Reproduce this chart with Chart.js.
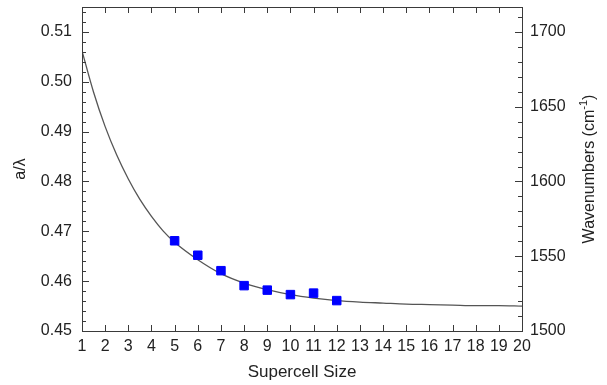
<!DOCTYPE html>
<html>
<head>
<meta charset="utf-8">
<script src="https://cdn.jsdelivr.net/npm/chart.js@4/dist/chart.umd.min.js"></script>
<style>
html,body{margin:0;padding:0;background:#fff;}
canvas{display:block;}
</style>
</head>
<body>
<canvas id="c" width="607" height="385"></canvas>
<script>
// ---- data ----
const supercellSizes = [5, 6, 7, 8, 9, 10, 11, 12];
const aOverLambda = [0.4681, 0.4652, 0.4621, 0.4591, 0.4582, 0.4573, 0.4576, 0.4561];

const curveX = [1, 1.5, 2, 2.5, 3, 3.5, 4, 4.5, 5, 6, 7, 8, 9, 10, 11, 12, 13, 14, 15, 16, 17, 18, 19, 20];
const curveY = [0.5062, 0.4979, 0.4910, 0.4853, 0.4805, 0.4764, 0.4730, 0.4701, 0.4678, 0.4643, 0.4615,
                0.4596, 0.4583, 0.4573, 0.4566, 0.4561, 0.4558, 0.4556, 0.4554, 0.4553, 0.4552, 0.4551, 0.4551, 0.4550];

const xTicks = [1,2,3,4,5,6,7,8,9,10,11,12,13,14,15,16,17,18,19,20];
const leftTicks = [0.45, 0.46, 0.47, 0.48, 0.49, 0.50, 0.51];
const rightTicks = [1500, 1550, 1600, 1650, 1700];

const xTitle = 'Supercell Size';
const leftTitle = 'a/\u03bb';
const rightTitleMain = 'Wavenumbers (cm';
const rightTitleSup = '-1';
const rightTitleEnd = ')';

const FONT = "'Liberation Sans', Arial, sans-serif";
const TXT = '#222222';
const FRAME = '#3a3a3a';

const frameTicks = {
  id: 'frameTicks',
  afterDatasetsDraw(chart) {
    const ctx = chart.ctx;
    const a = chart.chartArea;
    const xs = chart.scales.x, yl = chart.scales.y, yr = chart.scales.y2;
    ctx.save();
    ctx.strokeStyle = FRAME;
    ctx.lineWidth = 1;
    ctx.strokeRect(Math.round(a.left) + 0.5, Math.round(a.top) + 0.5,
                   Math.round(a.right - a.left), Math.round(a.bottom - a.top));
    ctx.beginPath();
    xTicks.forEach(v => {
      const px = Math.round(xs.getPixelForValue(v)) + 0.5;
      ctx.moveTo(px, a.bottom); ctx.lineTo(px, a.bottom - 6);
      ctx.moveTo(px, a.top); ctx.lineTo(px, a.top + 6);
    });
    for (let i = 0; i <= 32; i++) {
      const v = 0.45 + i * 0.002;
      if (v > yl.max + 1e-9) break;
      const py = Math.round(yl.getPixelForValue(v)) + 0.5;
      const len = (i % 5 === 0) ? 7 : 4;
      ctx.moveTo(a.left, py); ctx.lineTo(a.left + len, py);
    }
    for (let i = 0; i <= 25; i++) {
      const v = 1500 + i * 10;
      if (v > yr.max + 1e-9) break;
      const py = Math.round(yr.getPixelForValue(v)) + 0.5;
      const len = (i % 5 === 0) ? 7 : 4;
      ctx.moveTo(a.right, py); ctx.lineTo(a.right - len, py);
    }
    ctx.stroke();
    ctx.restore();
  },
  afterDraw(chart) {
    const ctx = chart.ctx;
    const a = chart.chartArea;
    ctx.save();
    ctx.fillStyle = TXT;
    ctx.translate(590, (a.top + a.bottom) / 2);
    ctx.rotate(-Math.PI / 2);
    ctx.textBaseline = 'middle';
    const big = "16px " + FONT, small = "11px " + FONT;
    ctx.font = big;
    const w1 = ctx.measureText(rightTitleMain).width;
    const w3 = ctx.measureText(rightTitleEnd).width;
    ctx.font = small;
    const w2 = ctx.measureText(rightTitleSup).width;
    let x = -(w1 + w2 + w3) / 2;
    ctx.textAlign = 'left';
    ctx.font = big;
    ctx.fillText(rightTitleMain, x, 0);
    x += w1;
    ctx.font = small;
    ctx.fillText(rightTitleSup, x, -6);
    x += w2;
    ctx.font = big;
    ctx.fillText(rightTitleEnd, x, 0);
    ctx.restore();
  }
};

new Chart(document.getElementById('c'), {
  type: 'scatter',
  data: {
    datasets: [
      {
        label: 'points',
        data: supercellSizes.map((x, i) => ({x: x, y: aOverLambda[i]})),
        backgroundColor: '#0000ff',
        borderColor: '#0000ff',
        borderWidth: 1,
        pointStyle: 'rect',
        pointRadius: 6,
        pointHoverRadius: 6,
        showLine: false,
        order: 0
      },
      {
        label: 'fit',
        data: curveX.map((x, i) => ({x: x, y: curveY[i]})),
        showLine: true,
        borderColor: '#555555',
        borderWidth: 1.3,
        pointRadius: 0,
        cubicInterpolationMode: 'monotone',
        fill: false,
        order: 1
      }
    ]
  },
  options: {
    responsive: false,
    animation: false,
    devicePixelRatio: 1,
    layout: { padding: { top: 6, left: 0, right: 0, bottom: 0 } },
    plugins: { legend: { display: false }, tooltip: { enabled: false } },
    scales: {
      x: {
        type: 'linear',
        position: 'bottom',
        min: 1, max: 20,
        afterBuildTicks: s => { s.ticks = xTicks.map(v => ({value: v})); },
        afterFit: s => { s.height = 54; s.paddingLeft = 0; s.paddingRight = 0; },
        grid: { display: false, drawTicks: false },
        border: { display: false },
        ticks: { autoSkip: false, maxRotation: 0, padding: 6, color: TXT, font: { family: FONT, size: 16 },
                 callback: v => String(v) },
        title: { display: true, text: xTitle, color: TXT, font: { family: FONT, size: 17 },
                 padding: { top: 0, bottom: 2 } }
      },
      y: {
        type: 'linear',
        position: 'left',
        min: 0.45, max: 0.515,
        afterBuildTicks: s => { s.ticks = leftTicks.map(v => ({value: v})); },
        afterFit: s => { s.width = 82; s.paddingTop = 0; s.paddingBottom = 0; },
        grid: { display: false, drawTicks: false },
        border: { display: false },
        ticks: { padding: 10, color: TXT, font: { family: FONT, size: 16 },
                 callback: v => Number(v).toFixed(2) },
        title: { display: true, text: leftTitle, color: TXT, font: { family: FONT, size: 16 },
                 padding: { top: 11, bottom: 0 } }
      },
      y2: {
        type: 'linear',
        position: 'right',
        min: 1500, max: 0.515 * 10000 / 3,
        afterBuildTicks: s => { s.ticks = rightTicks.map(v => ({value: v})); },
        afterFit: s => { s.width = 85; s.paddingTop = 0; s.paddingBottom = 0; },
        grid: { display: false, drawTicks: false },
        border: { display: false },
        ticks: { padding: 8, color: TXT, font: { family: FONT, size: 16 },
                 callback: v => String(Math.round(v)) },
        title: { display: false }
      }
    }
  },
  plugins: [frameTicks]
});
</script>
</body>
</html>
